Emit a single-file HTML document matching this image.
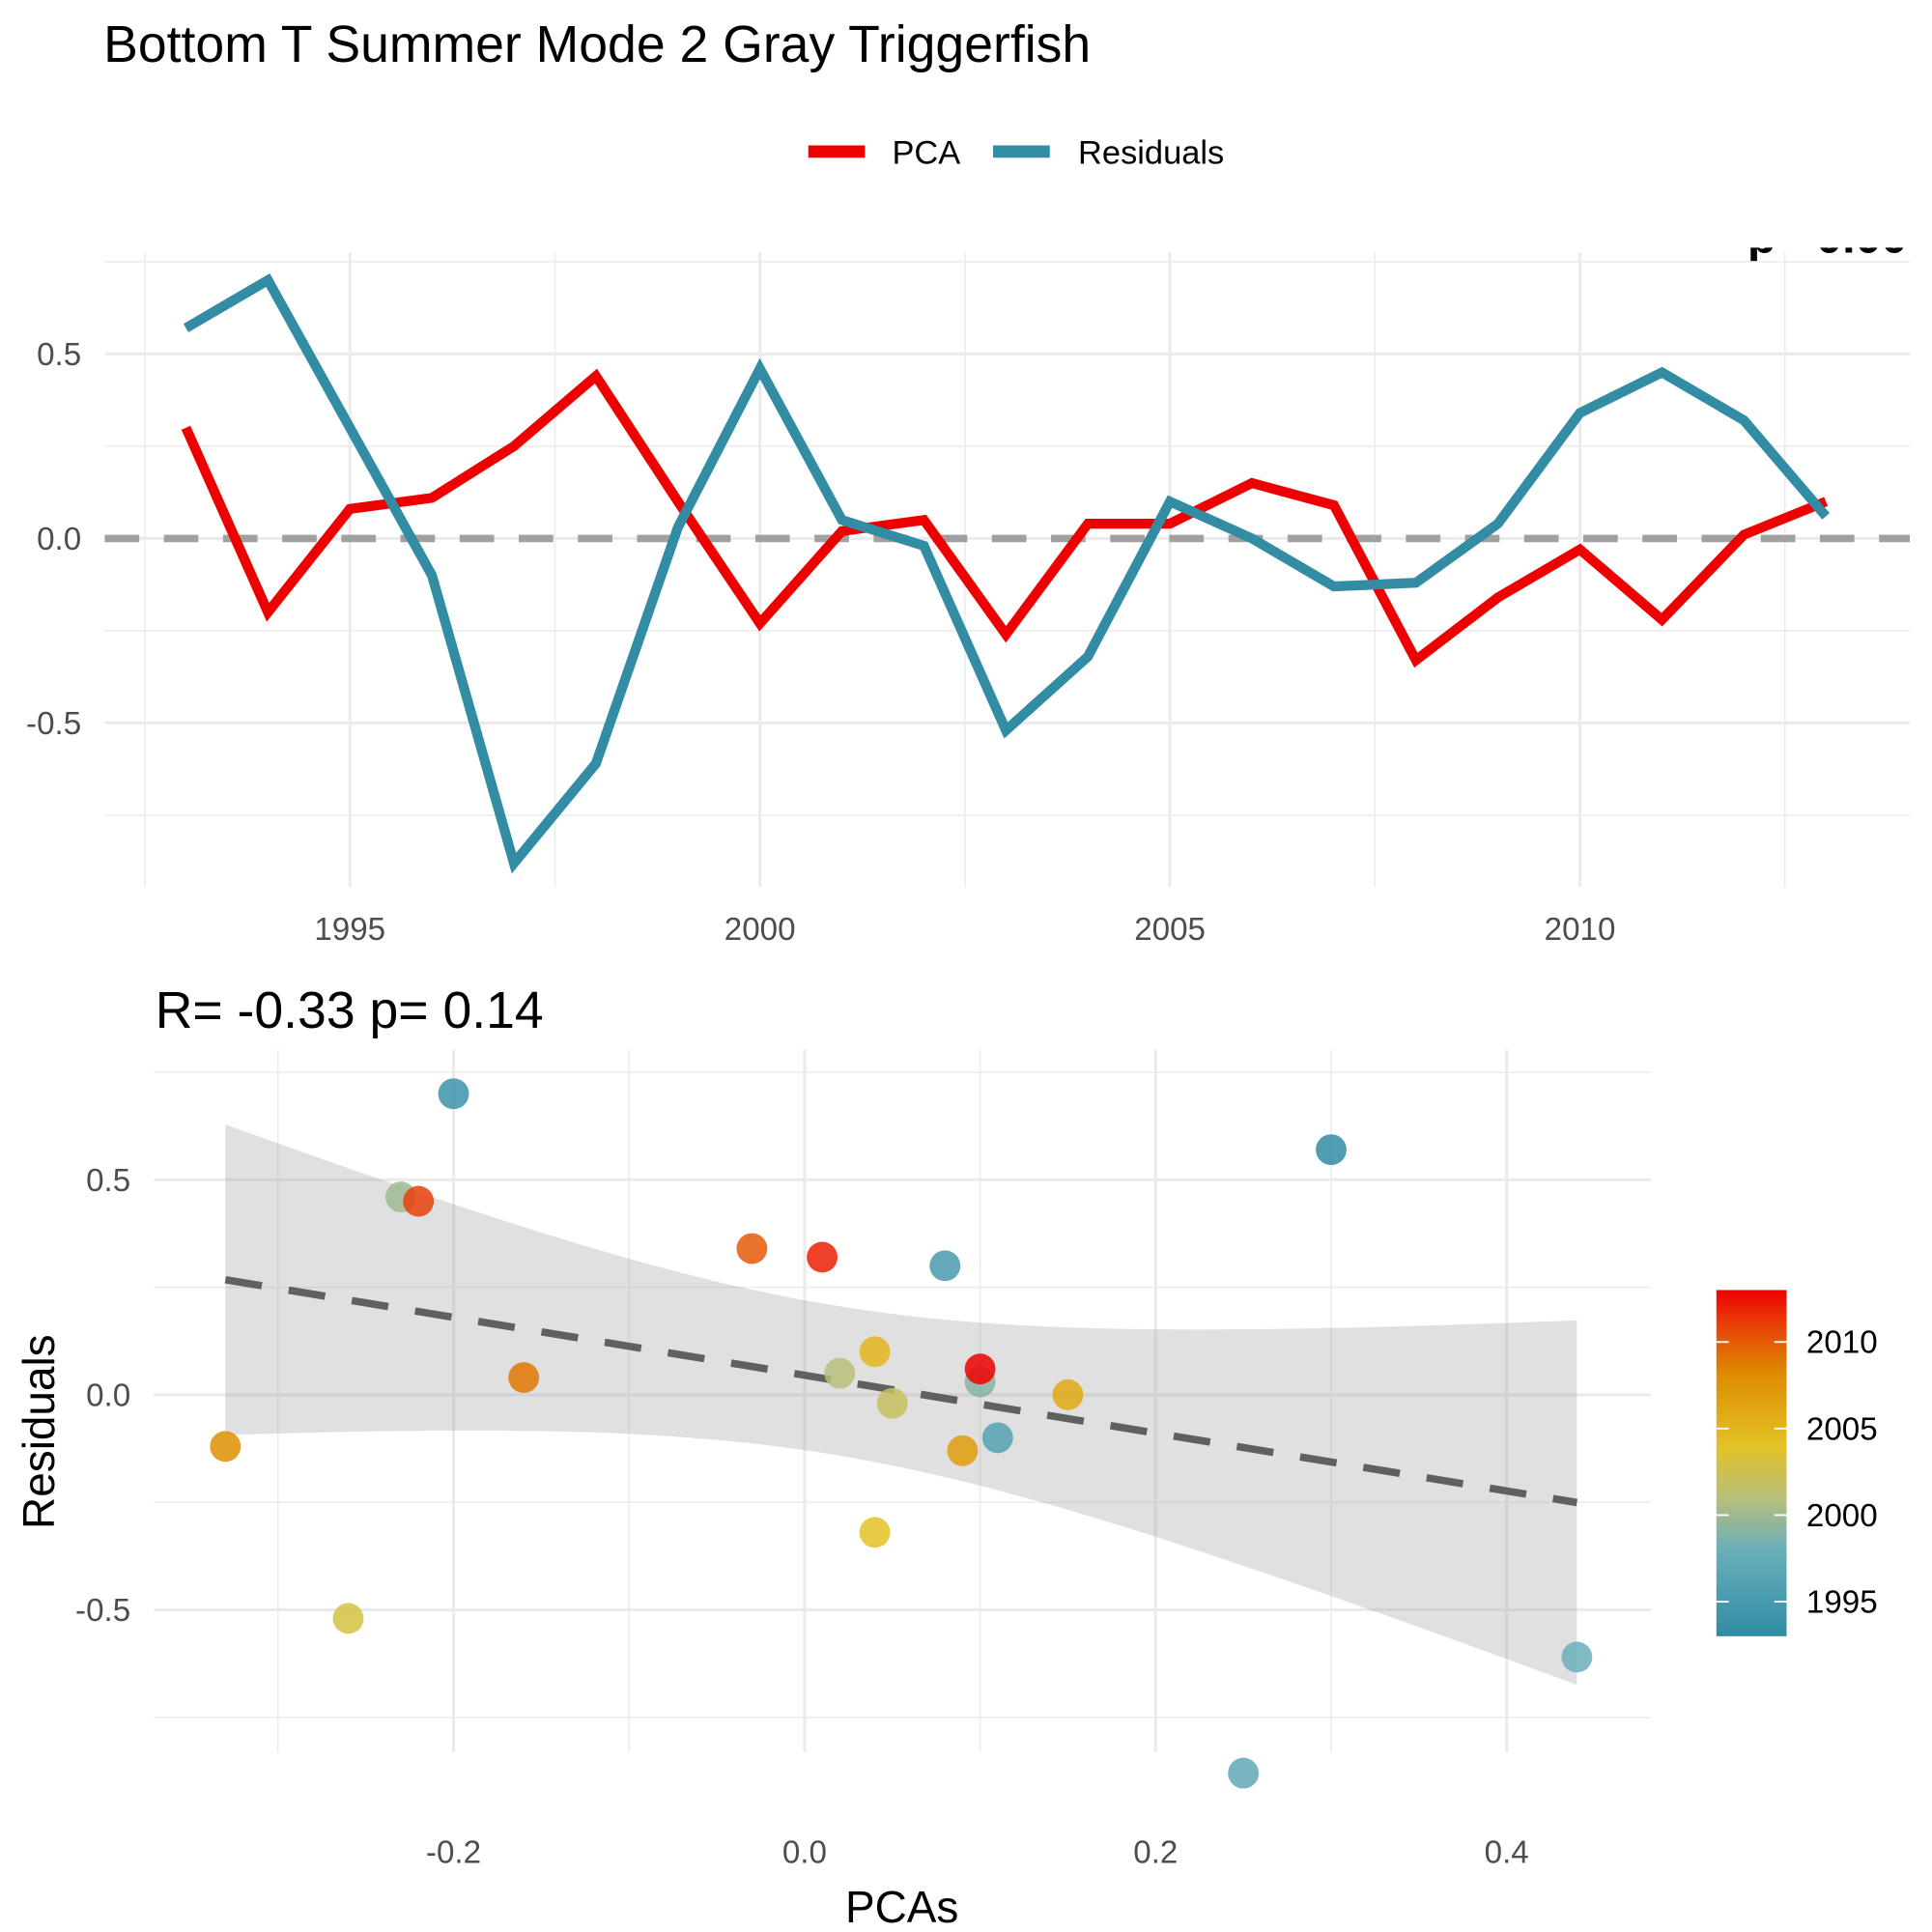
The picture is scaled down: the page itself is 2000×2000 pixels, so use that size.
<!DOCTYPE html>
<html><head><meta charset="utf-8"><style>
html,body{margin:0;padding:0;background:#fff;}
svg{display:block;font-family:"Liberation Sans",Arial,sans-serif;}
</style></head><body>
<svg id="chart" width="2000" height="2000" viewBox="0 0 1568 1568" xmlns="http://www.w3.org/2000/svg">
<defs>
<linearGradient id="cbar" x1="0" y1="1" x2="0" y2="0">
<stop offset="0" stop-color="#318CA4"/>
<stop offset="0.25" stop-color="#6AAFBB"/>
<stop offset="0.4" stop-color="#B8BF7A"/>
<stop offset="0.55" stop-color="#E3C225"/>
<stop offset="0.75" stop-color="#DE8F00"/>
<stop offset="0.9" stop-color="#E8400A"/>
<stop offset="1" stop-color="#EE0000"/>
</linearGradient>
</defs>
<text x="84" y="50" font-size="42">Bottom T Summer Mode 2 Gray Triggerfish</text>
<g>
<rect x="656" y="118" width="46" height="10" fill="#EE0000"/>
<text x="724" y="133" font-size="27">PCA</text>
<rect x="806" y="118" width="46" height="10" fill="#318CA4"/>
<text x="875" y="133" font-size="27">Residuals</text>
</g>
<svg x="0" y="201" width="1568" height="13" overflow="hidden"><text x="1548" y="4" font-size="38" font-weight="bold" text-anchor="end">- p= 0.00</text></svg>
<g id="toppanel"></g>
<g id="bottompanel"></g>
<text x="126" y="834" font-size="42">R= -0.33  p= 0.14</text>
<text x="732" y="1560" font-size="36" text-anchor="middle">PCAs</text>
<text transform="translate(44,1162) rotate(-90)" font-size="36" text-anchor="middle">Residuals</text>
<g>
<rect x="1393" y="1047" width="57" height="281" fill="url(#cbar)"/>
<g id="cbticks"></g>
</g>
</svg>
<script>
const years=[1993,1994,1995,1996,1997,1998,1999,2000,2001,2002,2003,2004,2005,2006,2007,2008,2009,2010,2011,2012,2013];
const pcaValues=[0.30,-0.20,0.08,0.11,0.25,0.44,0.10,-0.23,0.02,0.05,-0.26,0.04,0.04,0.15,0.09,-0.33,-0.16,-0.03,-0.22,0.01,0.10];
const residualValues=[0.57,0.70,0.30,-0.10,-0.88,-0.61,0.03,0.46,0.05,-0.02,-0.52,-0.32,0.10,0.00,-0.13,-0.12,0.04,0.34,0.45,0.32,0.06];
const topXTicks=[1995,2000,2005,2010];
const topYTicks=[-0.5,0,0.5];
const botXTicks=[-0.2,0,0.2,0.4];
const botYTicks=[-0.5,0,0.5];
const cbTicks=[1995,2000,2005,2010];
const NS='http://www.w3.org/2000/svg';
function mk(tag,attrs,parent){const e=document.createElementNS(NS,tag);for(const k in attrs)e.setAttribute(k,attrs[k]);parent.appendChild(e);return e;}
const tx=y=>284+(y-1995)*66.55, ty=v=>437-v*299.5;
const tp=document.getElementById('toppanel');
const gridC='#EBEBEB';
[-0.75,-0.25,0.25,0.75].forEach(v=>{const l=mk('line',{x1:85,x2:1550,y1:ty(v),y2:ty(v),stroke:gridC,'stroke-width':1.2},tp);});
[1992.5,1997.5,2002.5,2007.5,2012.5].forEach(v=>{const l=mk('line',{x1:tx(v),x2:tx(v),y1:205,y2:720,stroke:gridC,'stroke-width':1.2},tp);});
topYTicks.forEach(v=>{const l=mk('line',{x1:85,x2:1550,y1:ty(v),y2:ty(v),stroke:gridC,'stroke-width':2.5},tp);
const t=mk('text',{x:66,y:ty(v)+9,'font-size':26,fill:'#4D4D4D','text-anchor':'end'},tp);t.textContent=v===0?'0.0':v.toFixed(1);});
topXTicks.forEach(v=>{const l=mk('line',{x1:tx(v),x2:tx(v),y1:205,y2:720,stroke:gridC,'stroke-width':2.5},tp);
const t=mk('text',{x:tx(v),y:763,'font-size':26,fill:'#4D4D4D','text-anchor':'middle'},tp);t.textContent=v;});
const zl=mk('line',{x1:85,x2:1550,y1:ty(0),y2:ty(0),stroke:'#A0A0A0','stroke-width':6,'stroke-dasharray':'28 20'},tp);

const p1=mk('polyline',{points:years.map((y,i)=>tx(y)+','+ty(pcaValues[i])).join(' '),fill:'none',stroke:'#EE0000','stroke-width':8},tp);

const p2=mk('polyline',{points:years.map((y,i)=>tx(y)+','+ty(residualValues[i])).join(' '),fill:'none',stroke:'#318CA4','stroke-width':8},tp);

const bx=v=>653+v*1424.5, by=v=>1132-v*349;
const bp=document.getElementById('bottompanel');
[-0.75,-0.25,0.25,0.75].forEach(v=>{const l=mk('line',{x1:125,x2:1340,y1:by(v),y2:by(v),stroke:gridC,'stroke-width':1.2},bp);});
[-0.3,-0.1,0.1,0.3].forEach(v=>{const l=mk('line',{x1:bx(v),x2:bx(v),y1:852,y2:1422,stroke:gridC,'stroke-width':1.2},bp);});
botYTicks.forEach(v=>{const l=mk('line',{x1:125,x2:1340,y1:by(v),y2:by(v),stroke:gridC,'stroke-width':2.5},bp);
const t=mk('text',{x:106,y:by(v)+9,'font-size':26,fill:'#4D4D4D','text-anchor':'end'},bp);t.textContent=v===0?'0.0':v.toFixed(1);});
botXTicks.forEach(v=>{const l=mk('line',{x1:bx(v),x2:bx(v),y1:852,y2:1422,stroke:gridC,'stroke-width':2.5},bp);
const t=mk('text',{x:bx(v),y:1512,'font-size':26,fill:'#4D4D4D','text-anchor':'middle'},bp);t.textContent=v===0?'0.0':v.toFixed(1);});
const n=pcaValues.length;
const mx=pcaValues.reduce((a,b)=>a+b,0)/n, my=residualValues.reduce((a,b)=>a+b,0)/n;
let sxx=0,sxy=0;for(let i=0;i<n;i++){sxx+=(pcaValues[i]-mx)**2;sxy+=(pcaValues[i]-mx)*(residualValues[i]-my);}
const b1=sxy/sxx,b0=my-b1*mx;
let sse=0;for(let i=0;i<n;i++)sse+=(residualValues[i]-b0-b1*pcaValues[i])**2;
const sres=Math.sqrt(sse/(n-2)),tq=2.093;
const xmin=Math.min(...pcaValues),xmax=Math.max(...pcaValues);
const up=[],lo=[];
for(let k=0;k<=80;k++){const x=xmin+(xmax-xmin)*k/80;const f=b0+b1*x;const se=sres*Math.sqrt(1/n+(x-mx)**2/sxx);up.push(bx(x)+','+by(f+tq*se));lo.unshift(bx(x)+','+by(f-tq*se));}
const band=mk('polygon',{points:up.concat(lo).join(' '),fill:'#999999','fill-opacity':0.3},bp);

const rl=mk('line',{x1:bx(xmin),y1:by(b0+b1*xmin),x2:bx(xmax),y2:by(b0+b1*xmax),stroke:'#606060','stroke-width':6,'stroke-dasharray':'30 22'},bp);

const stops=[[1993,[49,140,164]],[1998,[106,175,187]],[2001,[184,191,122]],[2004,[227,194,37]],[2008,[222,143,0]],[2011,[232,64,10]],[2013,[238,0,0]]];
function col(y){for(let i=0;i<stops.length-1;i++){const a=stops[i][0],ca=stops[i][1],b=stops[i+1][0],cb=stops[i+1][1];if(y<=b){const t=(y-a)/(b-a);return 'rgb('+ca.map((c,j)=>Math.round(c+(cb[j]-c)*t)).join(',')+')';}}return 'rgb(238,0,0)';}
years.forEach((y,i)=>{const c=mk('circle',{cx:bx(pcaValues[i]),cy:by(residualValues[i]),r:12.5,fill:col(y),'fill-opacity':0.85},bp);});
const cby=y=>1328-(y-1993)*14.05;
const cbt=document.getElementById('cbticks');
cbTicks.forEach(y=>{[1393,1440].forEach(x0=>{const l=mk('line',{x1:x0,x2:x0+10,y1:cby(y),y2:cby(y),stroke:'#fff','stroke-width':1.5},cbt);});
const t=mk('text',{x:1466,y:cby(y)+9,'font-size':26},cbt);t.textContent=y;});
</script>
</body></html>
